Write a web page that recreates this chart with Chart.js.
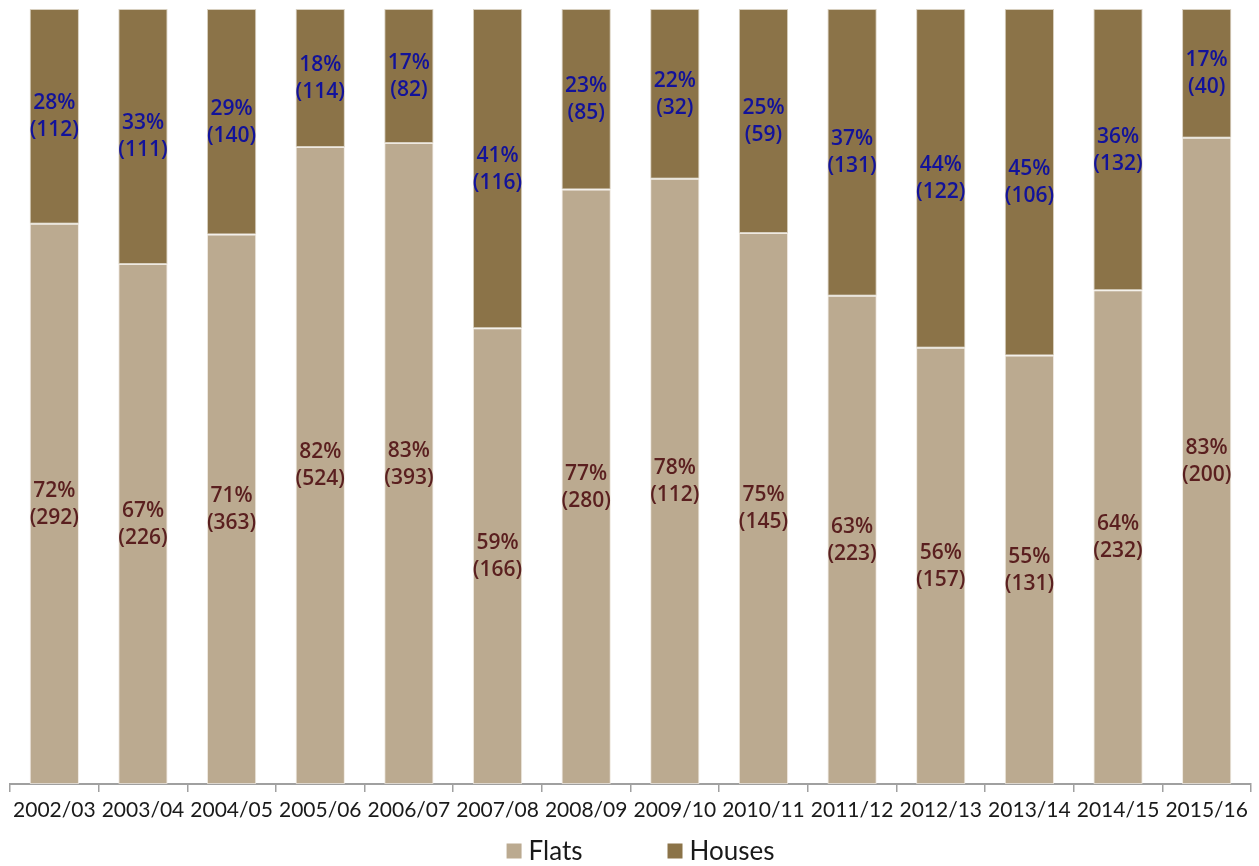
<!DOCTYPE html>
<html>
<head>
<meta charset="utf-8">
<script src="https://cdn.jsdelivr.net/npm/chart.js@4/dist/chart.umd.min.js"></script>
<style>
html,body{margin:0;padding:0;background:#fff;}
#wrap{width:1259px;height:866px;position:relative;}
</style>
</head>
<body>
<div id="wrap"><canvas id="c" width="1259" height="866"></canvas></div>
<script>
const categories = ['2002/03','2003/04','2004/05','2005/06','2006/07','2007/08','2008/09','2009/10','2010/11','2011/12','2012/13','2013/14','2014/15','2015/16'];
// bar segment shares
const flatsShare  = [72.3, 67.1, 70.9, 82.2, 82.7, 58.8, 76.7, 78.1, 71.1, 63.0, 56.3, 55.3, 63.7, 83.4];
const housesShare = [27.7, 32.9, 29.1, 17.8, 17.3, 41.2, 23.3, 21.9, 28.9, 37.0, 43.7, 44.7, 36.3, 16.6];
// printed labels
const flatsPct    = [72, 67, 71, 82, 83, 59, 77, 78, 75, 63, 56, 55, 64, 83];
const housesPct   = [28, 33, 29, 18, 17, 41, 23, 22, 25, 37, 44, 45, 36, 17];
const flatsCount  = [292, 226, 363, 524, 393, 166, 280, 112, 145, 223, 157, 131, 232, 200];
const housesCount = [112, 111, 140, 114, 82, 116, 85, 32, 59, 131, 122, 106, 132, 40];

const seriesNames = ['Flats', 'Houses'];
const seriesColors = ['#BBAA90', '#8B7348'];
const labelColors = ['#5A1F1F', '#12129A'];
const pctLabels = [flatsPct, housesPct];
const countLabels = [flatsCount, housesCount];

const barLabelPlugin = {
  id: 'barLabels',
  afterDatasetsDraw(chart) {
    const ctx = chart.ctx;
    ctx.save();
    ctx.font = '600 21px "Open Sans"';
    ctx.textAlign = 'center';
    ctx.textBaseline = 'middle';
    chart.data.datasets.forEach((ds, di) => {
      const meta = chart.getDatasetMeta(di);
      meta.data.forEach((el, i) => {
        const p = el.getProps(['x', 'y', 'base'], true);
        const cy = (p.y + p.base) / 2;
        ctx.fillStyle = labelColors[di];
        ctx.fillText(pctLabels[di][i] + '%', p.x, cy - 13);
        ctx.fillText('(' + countLabels[di][i] + ')', p.x, cy + 14);
      });
    });
    ctx.restore();
  }
};

const legendPlugin = {
  id: 'customLegend',
  afterDraw(chart) {
    const ctx = chart.ctx;
    ctx.save();
    ctx.font = '26px Lato';
    ctx.textBaseline = 'middle';
    ctx.textAlign = 'left';
    const box = 15, gapText = 7, gapItem = 85;
    const widths = seriesNames.map(n => box + gapText + ctx.measureText(n).width);
    const total = widths.reduce((a, b) => a + b, 0) + gapItem * (widths.length - 1);
    let x = chart.width / 2 + 11 - total / 2;
    const cy = 851;
    seriesNames.forEach((n, i) => {
      ctx.fillStyle = seriesColors[i];
      ctx.fillRect(x, cy - box / 2, box, box);
      ctx.fillStyle = '#1a1a1a';
      ctx.fillText(n, x + box + gapText, cy + 1);
      x += widths[i] + gapItem;
    });
    ctx.restore();
  }
};

new Chart(document.getElementById('c'), {
  type: 'bar',
  data: {
    labels: categories,
    datasets: [
      { label: seriesNames[0], data: flatsShare, backgroundColor: seriesColors[0], borderColor: 'rgba(235,228,218,0.8)', borderWidth: 1, borderSkipped: false },
      { label: seriesNames[1], data: housesShare, backgroundColor: seriesColors[1], borderColor: 'rgba(200,188,165,0.7)', borderWidth: 1, borderSkipped: false }
    ]
  },
  options: {
    responsive: false,
    animation: false,
    devicePixelRatio: 1,
    layout: { padding: { left: 10, right: 8, top: 9, bottom: 0 } },
    plugins: { legend: { display: false }, tooltip: { enabled: false } },
    datasets: { bar: { barPercentage: 0.556, categoryPercentage: 1 } },
    scales: {
      x: {
        stacked: true,
        offset: true,
        afterFit(scale) { scale.height = 82; },
        grid: { offset: true, drawOnChartArea: false, drawTicks: true, tickLength: 8, color: '#a0a0a0', lineWidth: 1.5 },
        border: { display: true, color: '#a0a0a0', width: 2 },
        ticks: { color: '#1a1a1a', font: { family: 'Lato', size: 21 }, padding: 6, maxRotation: 0, autoSkip: false }
      },
      y: {
        stacked: true,
        display: false,
        min: 0,
        max: 100
      }
    }
  },
  plugins: [barLabelPlugin, legendPlugin]
});
</script>
</body>
</html>
